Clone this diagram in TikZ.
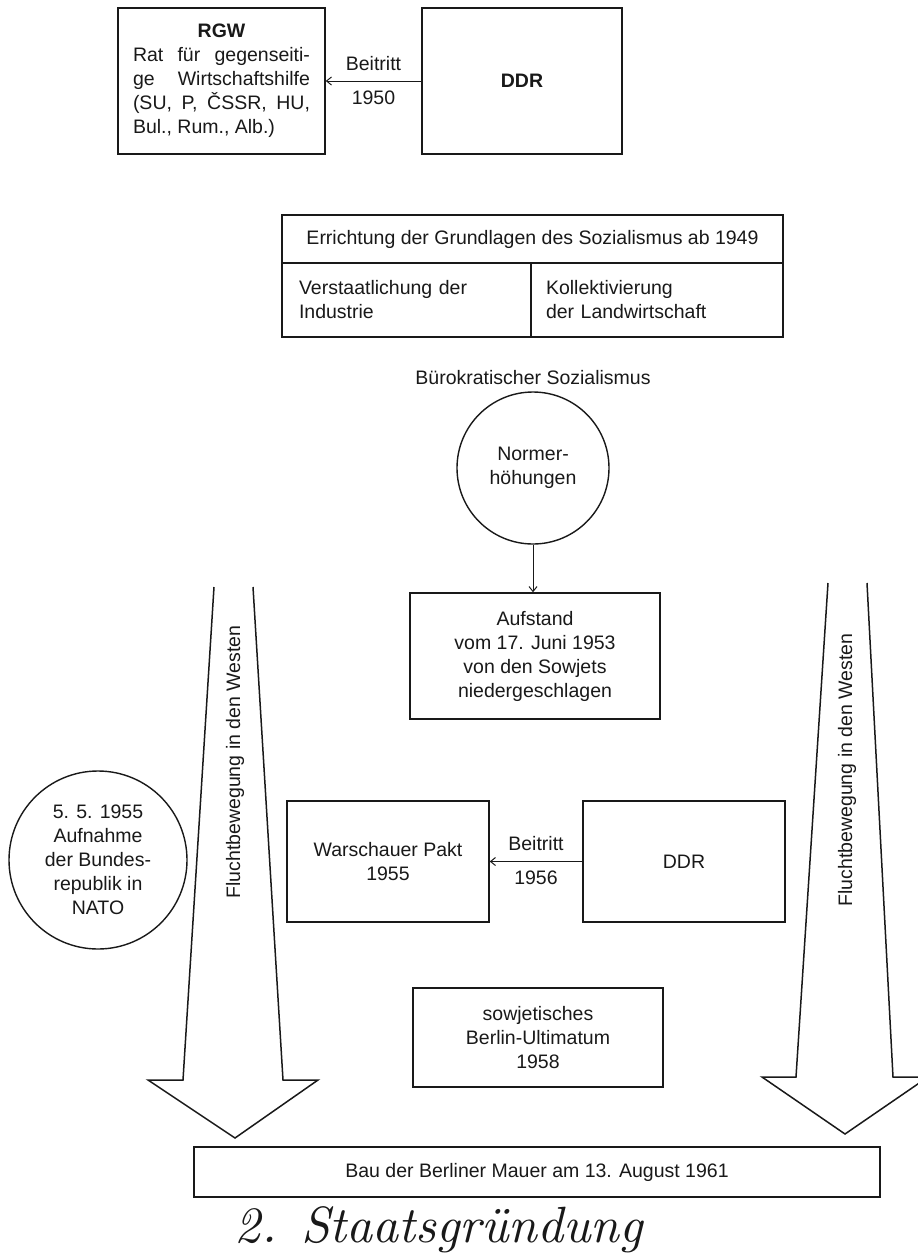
\documentclass[tikz,border=0pt]{standalone}
\usepackage{fontspec}
\setmainfont{Liberation Sans}
\newfontfamily\handfont[ItalicFont=lmroman10-italic.otf]{lmroman10-regular.otf}
\usepackage{graphicx}
\usetikzlibrary{arrows.meta}
\definecolor{ink}{gray}{0.1}
\tikzset{
  base/.style={font=\fontsize{19.5}{24}\selectfont, text=ink},
  box/.style={base, draw=ink, line width=1.4pt, rectangle, inner sep=0pt, align=center},
  circ/.style={base, draw=ink, line width=1.4pt, circle, inner sep=0pt, align=center},
  lbl/.style={base, inner sep=0pt},
  conn/.style={draw=ink, line width=1pt, -{Straight Barb[length=5pt,width=8pt]}},
  fat/.style={draw=ink, line width=1.5pt, line join=miter},
}
\begin{document}
\begin{tikzpicture}[x=1pt,y=-1pt]
\clip (0,0) rectangle (918,1256);
\fill[white] (0,0) rectangle (918,1256);

% top row
\node[box, minimum width=207pt, minimum height=146pt] (rgw) at (221.5,81)
  {\textbf{RGW}\\
   \makebox[177pt][s]{Rat für gegenseiti-}\\
   \makebox[177pt][s]{ge Wirtschaftshilfe}\\
   \makebox[177pt][s]{(SU, P, ČSSR, HU,}\\
   \makebox[177pt][l]{Bul., Rum., Alb.)}};
\node[box, minimum width=200pt, minimum height=146pt] (ddr) at (522,81) {\textbf{DDR}};
\draw[conn] (ddr.west) -- (rgw.east)
  node[lbl, midway, above=10pt] (b1) {Beitritt}
  node[lbl, midway, below=9pt] (y1) {1950};

% table
\node[box, minimum width=501pt, minimum height=48pt] (head) at (532.5,239)
  {Errichtung der Grundlagen des Sozialismus ab 1949};
\node[box, minimum width=249pt, minimum height=74pt, text width=215pt, align=left] (verst) at (406.5,300)
  {Verstaatlichung der\\Industrie};
\node[box, minimum width=252pt, minimum height=74pt, text width=222pt, align=left] (koll) at (657,300)
  {Kollektivierung\\der Landwirtschaft};

% middle
\node[lbl] (buero) at (533,378) {Bürokratischer Sozialismus};
\node[circ, minimum size=152pt] (norm) at (533,468) {Normer-\\höhungen};
\node[box, minimum width=250pt, minimum height=126pt] (auf) at (535,656)
  {Aufstand\\vom 17. Juni 1953\\von den Sowjets\\niedergeschlagen};
\draw[conn] (norm.south) -- (norm.south |- auf.north);

% NATO
\node[circ, minimum size=178pt] (nato) at (98,860)
  {5. 5. 1955\\Aufnahme\\der Bundes-\\republik in\\NATO};

% Warschauer Pakt
\node[box, minimum width=202pt, minimum height=121pt] (wp) at (388,861.5) {Warschauer Pakt\\1955};
\node[box, minimum width=202pt, minimum height=121pt] (ddr2) at (684,861.5) {DDR};
\draw[conn] (ddr2.west) -- (wp.east)
  node[lbl, midway, above=10pt] (b2) {Beitritt}
  node[lbl, midway, below=9pt] (y2) {1956};

% Berlin-Ultimatum
\node[box, minimum width=250pt, minimum height=99pt] (bu) at (538,1037.5)
  {sowjetisches\\Berlin-Ultimatum\\1958};

% Mauer
\node[box, minimum width=686pt, minimum height=50pt] (bau) at (537,1172)
  {Bau der Berliner Mauer am 13. August 1961};

% fat arrows
\draw[fat] (214,587) -- (183,1080) -- (148,1080) -- (235,1138) -- (318,1080) -- (283,1080) -- (253,587);
\draw[fat] (828,583) -- (796,1077) -- (762,1077) -- (845,1134) -- (928,1077) -- (893,1077) -- (867,583);
\node[lbl, rotate=90] (fl1) at (235,762) {Fluchtbewegung in den Westen};
\node[lbl, rotate=90] (fl2) at (847,770) {Fluchtbewegung in den Westen};

% handwriting
\node[inner sep=0pt, text=ink] (hw) at (439,1230)
  {\resizebox{408pt}{!}{\handfont\itshape 2. Staatsgründung}};
\end{tikzpicture}
\end{document}
